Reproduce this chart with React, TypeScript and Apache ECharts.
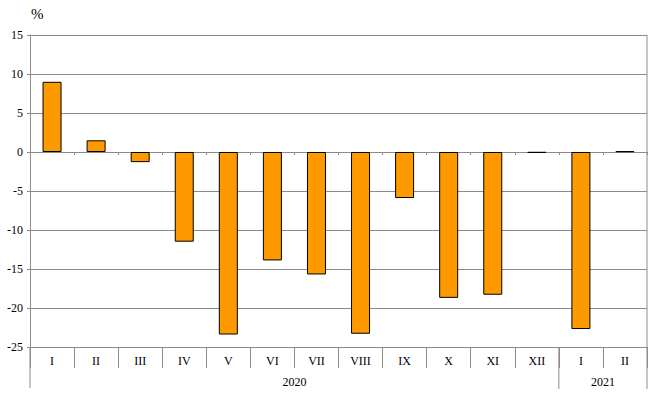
import React, { useEffect, useRef } from "react";
import * as echarts from "echarts";

const months = ["I", "II", "III", "IV", "V", "VI", "VII", "VIII", "IX", "X", "XI", "XII", "I", "II"];
const values = [9.0, 1.5, -1.3, -11.5, -23.4, -13.9, -15.7, -23.3, -5.9, -18.7, -18.3, -0.1, -22.7, 0.1];
const years = ["2020", "2021"];
const yearSpans = [12, 2];
const unitLabel = "%";

const W = 659;
const H = 406;
const GL = 30;
const GR = 12;
const GT = 35;
const GB = 59;
const FONT = "'Liberation Serif', 'Times New Roman', serif";
const GRAY = "#8c8c8c";

export default function App() {
  const ref = useRef<HTMLDivElement>(null);
  useEffect(() => {
    if (!ref.current) return;
    const chart = echarts.init(ref.current, null, { renderer: "svg" });
    const plotW = W - GL - GR;
    const bottomY = H - GB;
    const n = months.length;
    const graphics: any[] = [];
    let start = 0;
    years.forEach((y, i) => {
      const span = yearSpans[i];
      const cx = GL + (plotW * (start + span / 2)) / n;
      graphics.push({
        type: "text",
        x: cx,
        y: 382,
        style: { text: y, fontFamily: FONT, fontSize: 12, fill: "#000", align: "center", verticalAlign: "middle" },
      });
      start += span;
      const sx = GL + (plotW * start) / n;
      graphics.push({
        type: "line",
        shape: { x1: sx, y1: start < n ? bottomY : GT, x2: sx, y2: 389 },
        style: { stroke: GRAY, lineWidth: 1 },
        silent: true,
      });
    });
    graphics.push({
      type: "line",
      shape: { x1: GL, y1: bottomY, x2: GL, y2: 388 },
      style: { stroke: GRAY, lineWidth: 1 },
      silent: true,
    });
    graphics.push({
      type: "text",
      x: 31,
      y: 14,
      style: { text: unitLabel, fontFamily: FONT, fontSize: 15, fill: "#000", verticalAlign: "middle" },
    });

    chart.setOption({
      animation: false,
      grid: { left: GL, right: GR, top: GT, bottom: GB, containLabel: false },
      xAxis: [
        {
          type: "category",
          data: months,
          position: "bottom",
          axisLine: { onZero: true, lineStyle: { color: GRAY, width: 1 } },
          axisTick: { show: true, length: 3, lineStyle: { color: GRAY } },
          axisLabel: { show: false },
          splitLine: { show: false },
        },
        {
          type: "category",
          data: months,
          position: "bottom",
          axisLine: { onZero: false, lineStyle: { color: GRAY, width: 1 } },
          axisTick: { show: true, length: 21, lineStyle: { color: GRAY } },
          axisLabel: { show: true, fontFamily: FONT, fontSize: 12, color: "#000", margin: 8, interval: 0 },
          splitLine: { show: false },
        },
      ],
      yAxis: {
        type: "value",
        min: -25,
        max: 15,
        interval: 5,
        axisLine: { show: true, lineStyle: { color: GRAY } },
        axisTick: { show: true, length: 3, lineStyle: { color: GRAY } },
        axisLabel: { fontFamily: FONT, fontSize: 12, color: "#000", margin: 7 },
        splitLine: { show: true, lineStyle: { color: GRAY, width: 1 } },
      },
      series: [
        {
          type: "bar",
          xAxisIndex: 0,
          data: values,
          barWidth: 19,
          itemStyle: { color: "#FF9900", borderColor: "#000", borderWidth: 1 },
        },
      ],
      graphic: graphics,
    });
    return () => chart.dispose();
  }, []);
  return (
    <div
      ref={ref}
      style={{ position: "absolute", left: 0, top: 0, width: W, height: H, background: "#fff" }}
    />
  );
}
